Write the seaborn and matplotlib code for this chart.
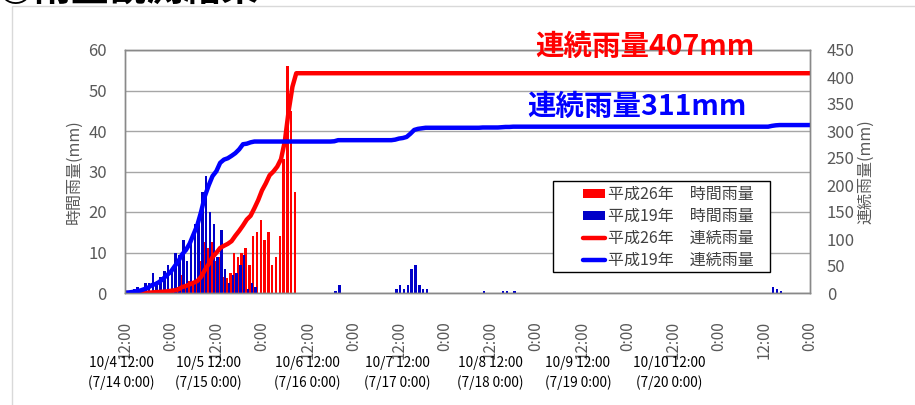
import numpy as np
import pandas as pd
import matplotlib
matplotlib.use("Agg")
import matplotlib.pyplot as plt
import matplotlib.transforms as mtransforms
from matplotlib.patches import Patch, Rectangle
from matplotlib.lines import Line2D
import seaborn as sns

sns.set_style("white")
plt.rcParams["font.family"] = ["Noto Sans CJK JP", "DejaVu Sans"]

# ---- data -------------------------------------------------------------
# Hour index 0 = 10/4 12:00 (平成26年) = 7/14 0:00 (平成19年); 180 hours shown
n_hours = 181

# 平成26年 hourly rainfall (mm), hours 6..45
h26_start = 6
h26_hourly = [0.5, 0.5, 0.5, 0.5, 0.5, 0.5, 1, 1, 1.5,
              4.5, 2, 3, 3, 3,
              8, 12.7, 11, 12.7,
              8, 9, 4, 3.6,
              5, 10, 9, 10, 11, 7, 14, 15, 18, 13, 15, 7, 9, 14,
              33, 56, 45, 25]

# 平成19年 hourly rainfall (mm), main burst hours 0..34
h19_hourly = [0.5, 0.5, 1, 1.5, 1, 2.5, 2.5, 5, 2, 4,
              5.5, 7, 6, 10, 9.5, 13, 8, 12, 17, 17,
              25, 29, 20, 17, 9, 15.5, 6, 2.5, 4.5, 5,
              7, 9.5, 1, 2.5, 1.5]
# 平成19年 later showers
h19_extra_hours = [55, 56, 71, 72, 73, 74, 75, 76, 77, 78, 79,
                   94, 99, 100, 102, 170, 171, 172]
h19_extra_mm = [0.5, 2, 1, 2, 1, 2, 6, 7, 2, 1, 1,
                0.5, 0.5, 0.5, 0.5, 1.5, 1, 0.5]

tick_labels = ["12:00", "0:00"] * 8
date_labels = ["10/4 12:00\n(7/14 0:00)", "10/5 12:00\n(7/15 0:00)",
               "10/6 12:00\n(7/16 0:00)", "10/7 12:00\n(7/17 0:00)",
               "10/8 12:00\n(7/18 0:00)", "10/9 12:00\n(7/19 0:00)",
               "10/10 12:00\n(7/20 0:00)"]

name_r_bar = "平成26年　時間雨量"
name_b_bar = "平成19年　時間雨量"
name_r_cum = "平成26年　連続雨量"
name_b_cum = "平成19年　連続雨量"

# ---- assemble series ----------------------------------------------------
hours = np.arange(n_hours)
red = np.zeros(n_hours)
red[h26_start:h26_start + len(h26_hourly)] = h26_hourly
blue = np.zeros(n_hours)
blue[:len(h19_hourly)] = h19_hourly
blue[h19_extra_hours] += h19_extra_mm
red_cum = np.cumsum(red)
blue_cum = np.cumsum(blue)

bars = pd.DataFrame({
    "hour": np.tile(hours, 2),
    "mm": np.concatenate([red, blue]),
    "series": [name_r_bar] * n_hours + [name_b_bar] * n_hours,
})

RED = "#FF0000"
BAR_BLUE = "#0000C8"
LINE_BLUE = "#0000FF"
GRAY_TXT = "#595959"
SPINE = "#898989"

# ---- figure -------------------------------------------------------------
W, H = 915, 405
fig = plt.figure(figsize=(W / 100, H / 100), dpi=100)
ax = fig.add_axes([125 / W, 1 - 293 / H, (810 - 125) / W, (293 - 50) / H])

sns.barplot(data=bars, x="hour", y="mm", hue="series",
            hue_order=[name_r_bar, name_b_bar], palette=[RED, BAR_BLUE],
            dodge=True, width=1.3, linewidth=0, saturation=1,
            errorbar=None, legend=False, ax=ax)

ax2 = ax.twinx()
sns.lineplot(x=hours, y=red_cum, color=RED, lw=3.2, ax=ax2)
sns.lineplot(x=hours, y=blue_cum, color=LINE_BLUE, lw=3.2, ax=ax2)

ax.set_xlim(0, 180)
ax.set_ylim(0, 60)
ax2.set_ylim(0, 450)
ax.set_yticks(range(0, 61, 10))
ax2.set_yticks(range(0, 451, 50))
ax.set_xticks(np.arange(0, 181, 12))
ax.set_xticklabels(tick_labels)

ax.grid(axis="y", color="#A6A6A6", lw=1)
ax.set_axisbelow(True)
ax2.grid(False)
for a in (ax, ax2):
    for s in a.spines.values():
        s.set_color(SPINE)
        s.set_linewidth(1)

ax.tick_params(axis="x", rotation=90, length=0, pad=20,
               labelcolor=GRAY_TXT, labelsize=11)
ax.tick_params(axis="y", length=0, pad=13, labelcolor=GRAY_TXT, labelsize=12)
ax2.tick_params(axis="y", length=0, pad=12, labelcolor=GRAY_TXT, labelsize=12)

ax.set_xlabel("")
ax.set_ylabel("時間雨量(mm)", color=GRAY_TXT, fontsize=11.5, labelpad=4)
ax2.set_ylabel("連続雨量(mm)", color=GRAY_TXT, fontsize=11.5, labelpad=2)

# totals written above the cumulative curves
ax2.text(136.5, 455, f"連続雨量{red_cum[-1]:.0f}mm", color=RED, fontsize=20.5,
         weight="bold", ha="center", va="center", clip_on=False)
ax2.text(134.5, 344, f"連続雨量{blue_cum[-1]:.0f}mm", color=LINE_BLUE, fontsize=20.5,
         weight="bold", ha="center", va="center", clip_on=False)

# date captions under the time axis
date_pos = [-1, 22, 48, 71.5, 96, 119, 143]
trans = mtransforms.blended_transform_factory(ax.transData, fig.transFigure)
for x, lab in zip(date_pos, date_labels):
    fig.text(x, 1 - 373 / H, lab, transform=trans, ha="center", va="center",
             fontsize=9.8, color="black", linespacing=1.5, multialignment="center")

# legend: opaque white box with the entries set in from its left edge
ax2.add_patch(Rectangle((553 / W, 1 - 272 / H), (770 - 553) / W, (272 - 181) / H,
                        transform=fig.transFigure, facecolor="white",
                        edgecolor="black", lw=1, zorder=4, clip_on=False))
handles = [
    Patch(facecolor=RED, edgecolor="none"),
    Patch(facecolor=BAR_BLUE, edgecolor="none"),
    Line2D([], [], color=RED, lw=3.2),
    Line2D([], [], color=LINE_BLUE, lw=3.2),
]
leg = ax2.legend(handles, [name_r_bar, name_b_bar, name_r_cum, name_b_cum],
                 loc="upper left", bbox_to_anchor=(578 / W, 1 - 181 / H),
                 bbox_transform=fig.transFigure, frameon=False, fontsize=11.5,
                 handlelength=1.4, handleheight=0.5, handletextpad=0.15,
                 labelspacing=0.32, borderpad=0.3, borderaxespad=0,
                 labelcolor="#404040")
leg.set_zorder(5)

# chart frame and heading
fig.patches.append(Rectangle((12 / W, -0.1), 1.0, 1 - 6 / H + 0.1,
                             transform=fig.transFigure, fill=False,
                             edgecolor="#D9D9D9", lw=1))
fig.text(-0.004, 1 - 9 / H, "◎雨量観測結果", fontsize=27, weight="bold",
         ha="left", va="bottom", color="black")

fig.savefig("out.png", dpi=100)
